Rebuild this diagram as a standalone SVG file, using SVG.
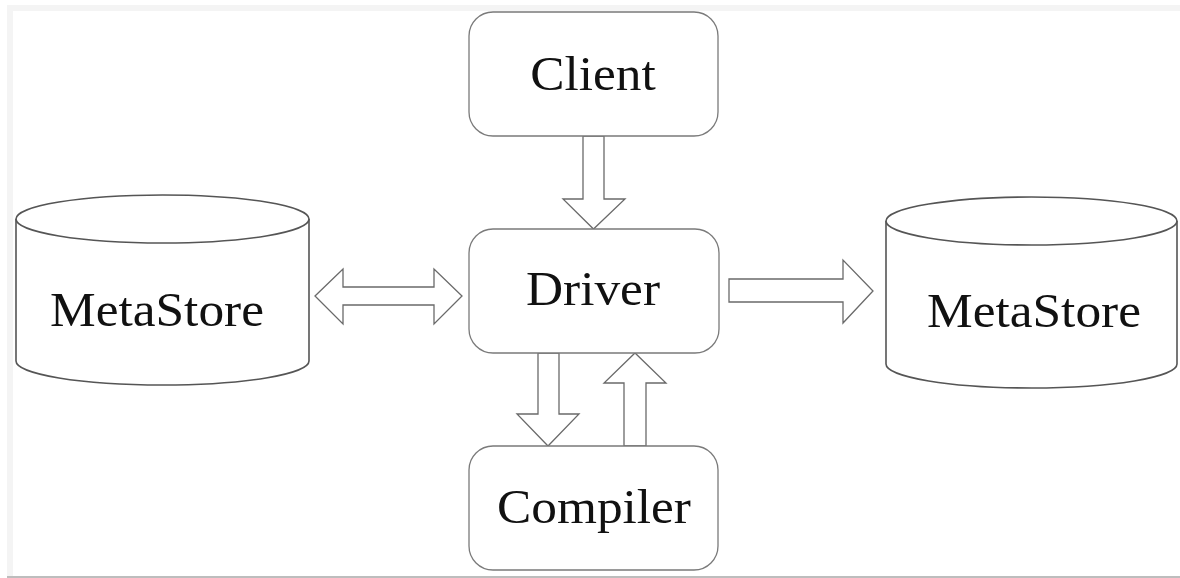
<svg xmlns="http://www.w3.org/2000/svg" width="1180" height="578" viewBox="0 0 1180 578">
  <defs>
    <style>
      .box { fill: #ffffff; stroke: #7a7a7a; stroke-width: 1.3; }
      .cyl { fill: #ffffff; stroke: #555555; stroke-width: 1.6; }
      .arrow { fill: #ffffff; stroke: #6a6a6a; stroke-width: 1.3; stroke-linejoin: miter; }
      .label { font-family: "Liberation Serif", "Times New Roman", serif; font-size: 48px; fill: #111111; text-anchor: middle; }
    </style>
  </defs>

  <!-- page frame -->
  <rect x="0" y="0" width="1180" height="578" fill="#ffffff"/>
  <rect x="7" y="5" width="1173" height="573" fill="#f4f4f4"/>
  <rect x="13" y="11" width="1167" height="565" fill="#ffffff"/>
  <line x1="7" y1="577" x2="1180" y2="577" stroke="#bdbdbd" stroke-width="2"/>

  <!-- block arrows -->
  <g id="connectors">
    <!-- Client to Driver -->
    <path class="arrow" d="M583,136 L604,136 L604,199 L625,199 L593.5,229 L563,199 L583,199 Z"/>
    <!-- Driver to Compiler -->
    <path class="arrow" d="M538,353 L559,353 L559,414 L579,414 L548,446 L517,414 L538,414 Z"/>
    <!-- Compiler to Driver -->
    <path class="arrow" d="M624,446 L646,446 L646,383 L666,383 L635,353 L604,383 L624,383 Z"/>
    <!-- MetaStore (left) to and from Driver -->
    <path class="arrow" d="M315,296 L343,269 L343,287 L434,287 L434,269 L462,296 L434,324 L434,305 L343,305 L343,324 Z"/>
    <!-- Driver to MetaStore (right) -->
    <path class="arrow" d="M729,279 L843,279 L843,260 L873,291 L843,323 L843,302 L729,302 Z"/>
  </g>

  <g id="client">
    <rect class="box" x="469" y="12" width="249" height="124" rx="24" ry="24"/>
    <text class="label" transform="translate(593,90) scale(1.07,1)">Client</text>
  </g>

  <g id="driver">
    <rect class="box" x="469" y="229" width="250" height="124" rx="24" ry="24"/>
    <text class="label" transform="translate(593,305) scale(1.07,1)">Driver</text>
  </g>

  <g id="compiler">
    <rect class="box" x="469" y="446" width="249" height="124" rx="24" ry="24"/>
    <text class="label" transform="translate(594,523) scale(1.07,1)">Compiler</text>
  </g>

  <g id="metastore-left">
    <path class="cyl" d="M16,219 L16,361 A146.5,24 0 0 0 309,361 L309,219"/>
    <ellipse class="cyl" cx="162.5" cy="219" rx="146.5" ry="24"/>
    <text class="label" transform="translate(157,326) scale(1.07,1)">MetaStore</text>
  </g>

  <g id="metastore-right">
    <path class="cyl" d="M886,221 L886,364 A145.5,24 0 0 0 1177,364 L1177,221"/>
    <ellipse class="cyl" cx="1031.5" cy="221" rx="145.5" ry="24"/>
    <text class="label" transform="translate(1034,327) scale(1.07,1)">MetaStore</text>
  </g>
</svg>
